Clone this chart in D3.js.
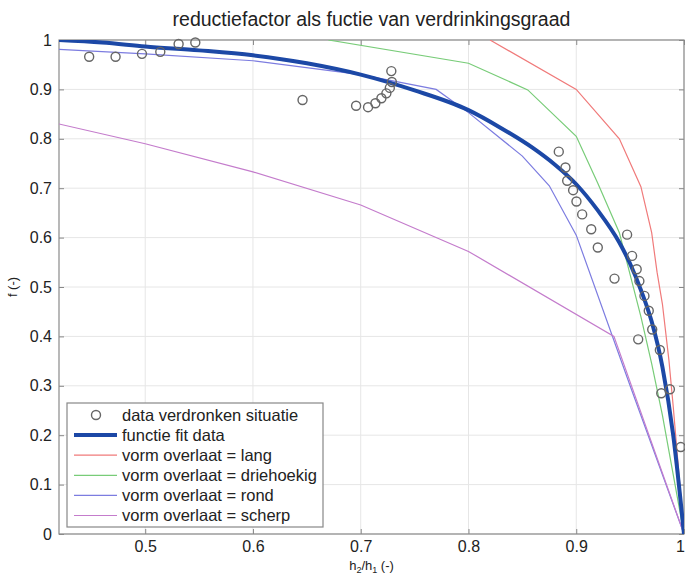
<!DOCTYPE html>
<html>
<head>
<meta charset="utf-8">
<script src="https://cdn.jsdelivr.net/npm/d3@7"></script>
<style>
  html, body { margin: 0; padding: 0; background: #ffffff; }
  svg { display: block; }
  text { font-family: "Liberation Sans", Arial, sans-serif; fill: #222; }
</style>
</head>
<body>
<svg id="chart" width="685" height="579"></svg>
<script>
// ---------- data ----------
const titleText = "reductiefactor als fuctie van verdrinkingsgraad";
const xTicks = [0.5, 0.6, 0.7, 0.8, 0.9, 1];
const yTicks = [0, 0.1, 0.2, 0.3, 0.4, 0.5, 0.6, 0.7, 0.8, 0.9, 1];

// measured points: data verdronken situatie
const dataX = [0.448, 0.4725, 0.497, 0.514, 0.531, 0.5465, 0.646,
  0.6957, 0.7068, 0.7136, 0.7192, 0.7238, 0.727, 0.7289, 0.7284,
  0.8838, 0.89, 0.8916, 0.8971, 0.9002, 0.9055, 0.9139, 0.92, 0.9355,
  0.9472, 0.9518, 0.9561, 0.9586, 0.9633, 0.9673, 0.9705, 0.9575,
  0.9776, 0.9789, 0.9869, 0.997];
const dataF = [0.966, 0.966, 0.972, 0.976, 0.992, 0.995, 0.8785,
  0.867, 0.864, 0.872, 0.882, 0.892, 0.903, 0.915, 0.937,
  0.774, 0.742, 0.715, 0.696, 0.673, 0.647, 0.617, 0.580, 0.517,
  0.606, 0.563, 0.536, 0.512, 0.482, 0.452, 0.414, 0.394,
  0.3725, 0.285, 0.293, 0.176];

// functie fit data
const fitX = [0.42, 0.46, 0.5, 0.55, 0.6, 0.65, 0.7, 0.75, 0.8, 0.83, 0.86, 0.88, 0.9, 0.92, 0.94, 0.95, 0.96, 0.97, 0.98, 0.99, 1.0];
const fitF = [1.0, 0.995, 0.987, 0.979, 0.969, 0.953, 0.930, 0.898, 0.858, 0.822, 0.781, 0.748, 0.708, 0.655, 0.590, 0.547, 0.494, 0.430, 0.338, 0.200, 0.0];

// vorm overlaat = lang
const langX = [0.82, 0.9, 0.94, 0.96, 0.97, 0.975, 0.98, 0.986, 0.99, 1.0];
const langF = [1.0, 0.9, 0.8, 0.703, 0.61, 0.53, 0.465, 0.352, 0.258, 0.0];

// vorm overlaat = driehoekig
const driehoekX = [0.67, 0.8, 0.855, 0.9, 0.92, 0.94, 0.95, 0.96, 0.97, 0.98, 0.99, 1.0];
const driehoekF = [1.0, 0.953, 0.899, 0.805, 0.71, 0.61, 0.525, 0.44, 0.345, 0.24, 0.12, 0.0];

// vorm overlaat = rond
const rondX = [0.42, 0.5, 0.6, 0.7, 0.77, 0.8, 0.85, 0.875, 0.9, 0.95, 1.0];
const rondF = [0.981, 0.972, 0.958, 0.93, 0.9, 0.853, 0.765, 0.705, 0.605, 0.3, 0.0];

// vorm overlaat = scherp
const scherpX = [0.42, 0.5, 0.6, 0.7, 0.8, 0.935, 1.0];
const scherpF = [0.83, 0.79, 0.733, 0.666, 0.572, 0.40, 0.0];

const legendLabels = ["data verdronken situatie", "functie fit data",
  "vorm overlaat = lang", "vorm overlaat = driehoekig",
  "vorm overlaat = rond", "vorm overlaat = scherp"];

// ---------- drawing ----------
const svg = d3.select("#chart");
const L = 59, R = 684, T = 40, B = 534;
const x = d3.scaleLinear().domain([0.42, 1]).range([L, R]);
const y = d3.scaleLinear().domain([0, 1]).range([B, T]);

// grid
const grid = svg.append("g");
grid.selectAll("line.gx").data(xTicks).join("line")
  .attr("x1", d => x(d)).attr("x2", d => x(d)).attr("y1", T).attr("y2", B)
  .attr("stroke", "#e6e6e6").attr("stroke-width", 1);
grid.selectAll("line.gy").data(yTicks).join("line")
  .attr("x1", L).attr("x2", R).attr("y1", d => y(d)).attr("y2", d => y(d))
  .attr("stroke", "#e6e6e6").attr("stroke-width", 1);

// axes with inward ticks
const fmt = d => String(d);
const axB = svg.append("g").attr("transform", `translate(0,${B})`)
  .call(d3.axisBottom(x).tickValues(xTicks).tickFormat(fmt).tickSizeInner(-5).tickSizeOuter(0).tickPadding(7));
const axT = svg.append("g").attr("transform", `translate(0,${T})`)
  .call(d3.axisTop(x).tickValues(xTicks).tickFormat("").tickSizeInner(-5).tickSizeOuter(0));
const axL = svg.append("g").attr("transform", `translate(${L},0)`)
  .call(d3.axisLeft(y).tickValues(yTicks).tickFormat(fmt).tickSizeInner(-5).tickSizeOuter(0).tickPadding(7));
const axR = svg.append("g").attr("transform", `translate(${R},0)`)
  .call(d3.axisRight(y).tickValues(yTicks).tickFormat("").tickSizeInner(-5).tickSizeOuter(0));
[axB, axT, axL, axR].forEach(g => {
  g.select(".domain").remove();
  g.selectAll(".tick line").attr("stroke", "#888");
  g.selectAll(".tick text").attr("font-size", 16).attr("font-family", "Liberation Sans, Arial, sans-serif").attr("fill", "#333");
});
// keep the last x label inside the window
axB.selectAll(".tick text").filter(d => d === 1).attr("dx", -4);

// box
svg.append("rect").attr("x", L).attr("y", T).attr("width", R - L).attr("height", B - T)
  .attr("fill", "none").attr("stroke", "#8a8a8a").attr("stroke-width", 1.2);

// clip
svg.append("clipPath").attr("id", "clip").append("rect")
  .attr("x", L).attr("y", T).attr("width", R - L).attr("height", B - T);
const plot = svg.append("g").attr("clip-path", "url(#clip)");

const line = d3.line().x(d => x(d[0])).y(d => y(d[1]));
const lineSmooth = d3.line().x(d => x(d[0])).y(d => y(d[1])).curve(d3.curveMonotoneX);
const zip = (a, b) => a.map((v, i) => [v, b[i]]);

const series = [
  { pts: zip(langX, langF), color: "#f07a7a", w: 1.2 },
  { pts: zip(driehoekX, driehoekF), color: "#78cc78", w: 1.2 },
  { pts: zip(rondX, rondF), color: "#7c7ce0", w: 1.2 },
  { pts: zip(scherpX, scherpF), color: "#c47ccc", w: 1.2 }
];
series.forEach(s => {
  plot.append("path").attr("d", line(s.pts)).attr("fill", "none")
    .attr("stroke", s.color).attr("stroke-width", s.w);
});
plot.append("path").attr("d", lineSmooth(zip(fitX, fitF))).attr("fill", "none")
  .attr("stroke", "#1c48a6").attr("stroke-width", 4);

svg.append("g").selectAll("circle").data(zip(dataX, dataF)).join("circle")
  .attr("cx", d => x(d[0])).attr("cy", d => y(d[1])).attr("r", 4.5)
  .attr("fill", "none").attr("stroke", "#666").attr("stroke-width", 1.4);

// title & labels
svg.append("text").attr("x", (L + R) / 2).attr("y", 26).attr("text-anchor", "middle")
  .attr("font-size", 19.5).text(titleText);

const xl = svg.append("text").attr("x", (L + R) / 2).attr("y", 570).attr("text-anchor", "middle")
  .attr("font-size", 13).attr("fill", "#333");
xl.append("tspan").text("h");
xl.append("tspan").attr("font-size", 9).attr("dy", 3).text("2");
xl.append("tspan").attr("dy", -3).text("/h");
xl.append("tspan").attr("font-size", 9).attr("dy", 3).text("1");
xl.append("tspan").attr("dy", -3).text(" (-)");

svg.append("text").attr("transform", `translate(17,${(T + B) / 2}) rotate(-90)`)
  .attr("text-anchor", "middle").attr("font-size", 13).attr("fill", "#333").text("f (-)");

// legend
const lg = svg.append("g");
lg.append("rect").attr("x", 67).attr("y", 403).attr("width", 256).attr("height", 124)
  .attr("fill", "#fff").attr("stroke", "#888").attr("stroke-width", 1.2);
const legendStyles = [
  { type: "circle" },
  { type: "line", color: "#1c48a6", w: 4 },
  { type: "line", color: "#f07a7a", w: 1.2 },
  { type: "line", color: "#78cc78", w: 1.2 },
  { type: "line", color: "#7c7ce0", w: 1.2 },
  { type: "line", color: "#c47ccc", w: 1.2 }
];
legendLabels.forEach((lab, i) => {
  const yy = 415 + i * 20.1;
  const st = legendStyles[i];
  if (st.type === "circle") {
    lg.append("circle").attr("cx", 96).attr("cy", yy).attr("r", 4.5)
      .attr("fill", "none").attr("stroke", "#666").attr("stroke-width", 1.4);
  } else {
    lg.append("line").attr("x1", 74).attr("x2", 117).attr("y1", yy).attr("y2", yy)
      .attr("stroke", st.color).attr("stroke-width", st.w);
  }
  lg.append("text").attr("x", 122).attr("y", yy + 5.5).attr("font-size", 16.5)
    .attr("fill", "#222").text(lab);
});
</script>
</body>
</html>
